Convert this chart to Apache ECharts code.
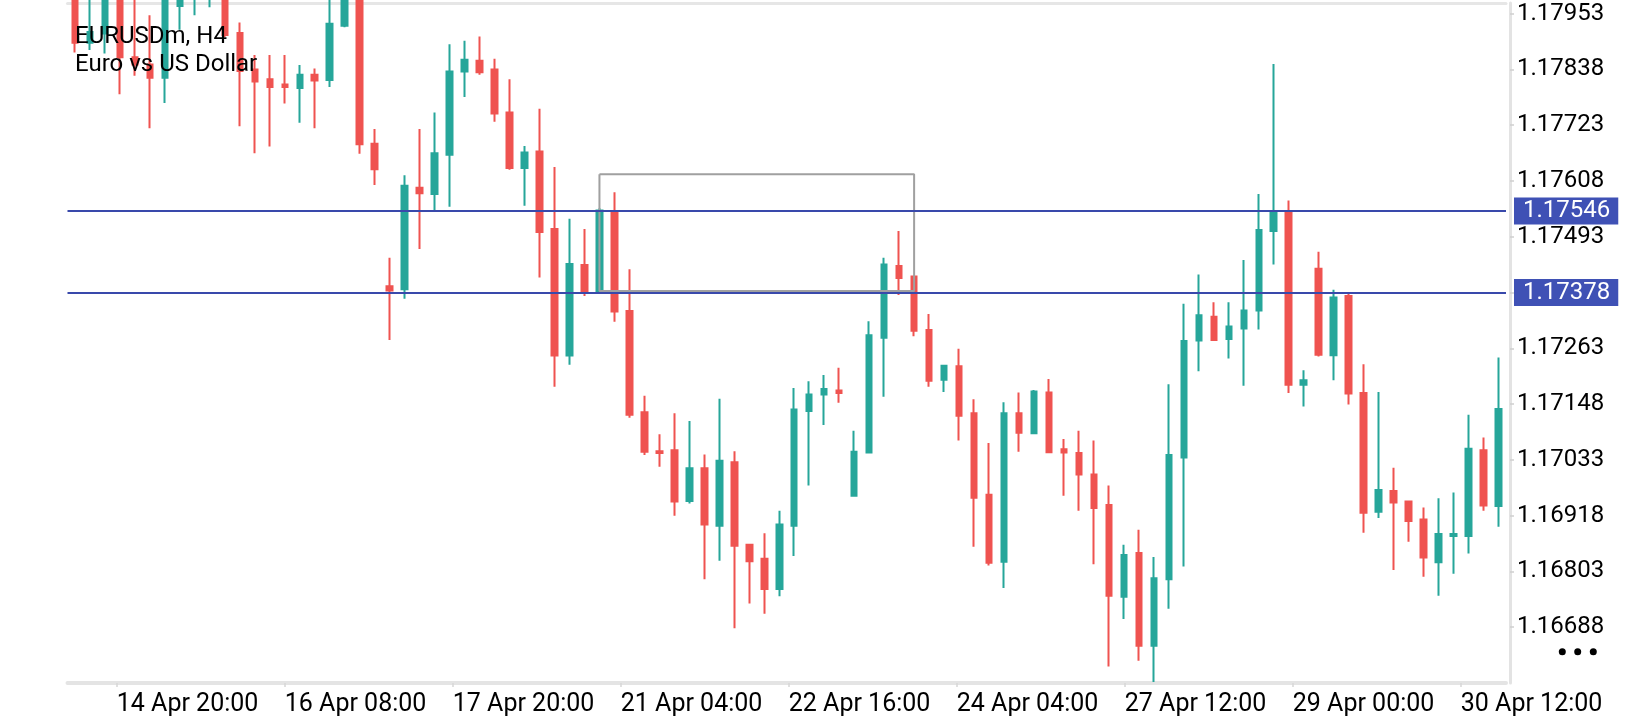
<!DOCTYPE html>
<html>
<head>
<meta charset="utf-8">
<script src="https://cdn.jsdelivr.net/npm/echarts/dist/echarts.min.js"></script>
<style>
html,body{margin:0;padding:0;background:#fff;}
#chart{width:1640px;height:720px;}
</style>
</head>
<body>
<div id="chart"></div>
<script>
// H4 candles, EURUSDm
const open = [
 1.17990,1.17893,1.17912,1.17990,1.17863,1.17848,1.17821,1.17969,1.17985,1.18010,
 1.18030,1.17913,1.17838,1.17818,1.17807,1.17800,1.17827,1.17816,1.17928,1.17985,
 1.17685,1.17391,1.17385,1.17594,1.17581,1.17662,1.17834,1.17856,1.17838,1.17749,
 1.17635,1.17669,1.17509,1.17248,1.17435,1.17380,1.17545,1.17340,1.17131,1.17051,
 1.17053,1.16948,1.17016,1.16897,1.17028,1.16858,1.16829,1.16767,1.16897,1.17134,
 1.17168,1.17176,1.16959,1.17048,1.17285,1.17433,1.17411,1.17301,1.17198,1.17226,
 1.17129,1.16961,1.16823,1.17129,1.17088,1.17172,1.17055,1.17047,1.17003,1.16940,
 1.16751,1.16841,1.16650,1.16787,1.17038,1.17279,1.17328,1.17282,1.17304,1.17341,
 1.17505,1.17545,1.17188,1.17427,1.17249,1.17371,1.17171,1.16926,1.16969,1.16947,
 1.16910,1.16822,1.16876,1.16876,1.17053,1.16938
];
const close = [
 1.17893,1.17915,1.17990,1.17863,1.17848,1.17821,1.17985,1.17985,1.18010,1.18030,
 1.17909,1.17835,1.17813,1.17802,1.17802,1.17827,1.17815,1.17932,1.17990,1.17684,
 1.17632,1.17382,1.17598,1.17583,1.17665,1.17834,1.17858,1.17832,1.17747,1.17635,
 1.17667,1.17503,1.17248,1.17437,1.17378,1.17547,1.17339,1.17126,1.17050,1.17047,
 1.16947,1.17016,1.16900,1.17031,1.16856,1.16824,1.16767,1.16900,1.17137,1.17168,
 1.17179,1.17171,1.17050,1.17290,1.17436,1.17408,1.17299,1.17196,1.17227,1.17124,
 1.16955,1.16821,1.17129,1.17089,1.17174,1.17049,1.17048,1.17003,1.16934,1.16753,
 1.16837,1.16650,1.16789,1.17043,1.17278,1.17331,1.17280,1.17308,1.17341,1.17507,
 1.17545,1.17188,1.17197,1.17250,1.17368,1.17170,1.16924,1.16971,1.16945,1.16907,
 1.16832,1.16880,1.16880,1.17056,1.16939,1.17138
];
const low = [
 1.17873,1.17878,1.17871,1.17787,1.17825,1.17717,1.17769,1.17920,1.17950,1.17966,
 1.17905,1.17721,1.17665,1.17679,1.17768,1.17728,1.17717,1.17802,1.17925,1.17664,
 1.17600,1.17280,1.17365,1.17468,1.17548,1.17555,1.17781,1.17827,1.17730,1.17631,
 1.17557,1.17409,1.17184,1.17229,1.17371,1.17379,1.17318,1.17120,1.17043,1.17019,
 1.16918,1.16943,1.16787,1.16825,1.16686,1.16737,1.16716,1.16752,1.16835,1.16980,
 1.17105,1.17151,1.16957,1.17048,1.17163,1.17373,1.17288,1.17184,1.17173,1.17073,
 1.16854,1.16815,1.16769,1.17050,1.17088,1.17047,1.16959,1.16928,1.16818,1.16607,
 1.16705,1.16619,1.16575,1.16726,1.16813,1.17216,1.17279,1.17242,1.17186,1.17302,
 1.17436,1.17171,1.17143,1.17246,1.17197,1.17147,1.16883,1.16913,1.16806,1.16864,
 1.16792,1.16753,1.16798,1.16840,1.16928,1.16895
];
const high = [
 1.18000,1.17995,1.18000,1.18005,1.17985,1.17950,1.17995,1.17995,1.18020,1.18040,
 1.18040,1.17935,1.17868,1.17868,1.17868,1.17847,1.17840,1.17985,1.18000,1.17995,
 1.17715,1.17450,1.17620,1.17715,1.17749,1.17890,1.17897,1.17906,1.17860,1.17818,
 1.17680,1.17757,1.17637,1.17530,1.17509,1.17552,1.17585,1.17426,1.17165,1.17086,
 1.17129,1.17113,1.17044,1.17159,1.17051,1.16859,1.16882,1.16928,1.17181,1.17195,
 1.17208,1.17223,1.17093,1.17319,1.17450,1.17505,1.17413,1.17334,1.17228,1.17262,
 1.17158,1.17068,1.17152,1.17172,1.17177,1.17200,1.17076,1.17093,1.17073,1.16980,
 1.16858,1.16889,1.16833,1.17189,1.17355,1.17415,1.17358,1.17358,1.17445,1.17581,
 1.17849,1.17568,1.17218,1.17462,1.17384,1.17377,1.17230,1.17173,1.17017,1.16947,
 1.16935,1.16954,1.16966,1.17126,1.17079,1.17244
];
const candleIds = open.map((_, i) => String(i));
const timeLabels = ['14 Apr 20:00','16 Apr 08:00','17 Apr 20:00','21 Apr 04:00','22 Apr 16:00',
                    '24 Apr 04:00','27 Apr 12:00','29 Apr 00:00','30 Apr 12:00'];
const levels = [1.17546, 1.17378];
const zoneFrom = 35, zoneTo = 56, zoneTop = 1.17622, zoneBottom = 1.17381;
const priceMin = 1.16573, priceMax = 1.17975, priceStep = 0.00115;

const candles = open.map((o, i) => [o, close[i], low[i], high[i]]);
const zonePath = [[zoneFrom, zoneTop], [zoneTo, zoneTop], [zoneTo, zoneBottom], [zoneFrom, zoneBottom], [zoneFrom, zoneTop]];

const FONT = 'Roboto';
const chart = echarts.init(document.getElementById('chart'));
chart.setOption({
  animation: false,
  backgroundColor: '#ffffff',
  title: {
    text: 'EURUSDm, H4\nEuro vs US Dollar',
    left: 75, top: 23, padding: 0,
    textStyle: { fontFamily: FONT, fontSize: 24, fontWeight: 'normal', color: '#000', lineHeight: 28 }
  },
  grid: [
    { left: 67.5, width: 1438.5, top: 3, bottom: 37 },
    { left: 116.8, width: 1344, top: 3, bottom: 37 }
  ],
  xAxis: [
    { type: 'category', gridIndex: 0, data: candleIds, position: 'bottom', boundaryGap: true,
      axisLine: { show: true, lineStyle: { color: '#e4e4e4', width: 4 } },
      axisTick: { show: false }, axisLabel: { show: false }, splitLine: { show: false } },
    { type: 'category', gridIndex: 0, data: candleIds, position: 'top', boundaryGap: true,
      axisLine: { show: true, lineStyle: { color: '#e6e6e6', width: 3 } },
      axisTick: { show: false }, axisLabel: { show: false }, splitLine: { show: false } },
    { type: 'value', gridIndex: 1, min: 0, max: timeLabels.length - 1, interval: 1, position: 'bottom',
      axisLine: { show: false },
      axisTick: { show: true, length: 4, lineStyle: { color: '#d6d6d6', width: 1.5 } },
      axisLabel: { show: true, align: 'left', margin: 9, fontFamily: FONT, fontSize: 25, color: '#000',
                   formatter: v => timeLabels[Math.round(v)] || '' },
      splitLine: { show: false } }
  ],
  yAxis: [
    { type: 'value', gridIndex: 0, position: 'right', offset: 4,
      min: priceMin, max: priceMax, interval: priceStep, scale: true,
      axisLine: { show: true, lineStyle: { color: '#e3e3e3', width: 3 } },
      axisTick: { show: true, length: 4, lineStyle: { color: '#d0d0d0', width: 1.5 } },
      axisLabel: { show: true, showMinLabel: false, showMaxLabel: false, margin: 7,
                   fontFamily: FONT, fontSize: 24, color: '#000',
                   formatter: v => v.toFixed(5) },
      splitLine: { show: false } },
    { type: 'value', gridIndex: 1, min: 0, max: 1, show: false }
  ],
  series: [
    {
      type: 'candlestick', xAxisIndex: 0, yAxisIndex: 0,
      data: candles, barWidth: 6, clip: true,
      itemStyle: { color: '#26a69a', color0: '#ef5350', borderColor: '#26a69a', borderColor0: '#ef5350', borderWidth: 2 },
      z: 2
    },
    {
      type: 'line', xAxisIndex: 0, yAxisIndex: 0, data: zonePath,
      symbol: 'none', silent: true, z: 3,
      lineStyle: { color: '#a0a0a0', width: 2 },
      markLine: {
        silent: true, symbol: 'none', animation: false, precision: 5,
        lineStyle: { color: '#3949ab', width: 2, type: 'solid' },
        label: { show: true, position: 'end', distance: 8, formatter: p => Number(p.value).toFixed(5),
                 color: '#fff', backgroundColor: '#3f51b5', fontFamily: FONT, fontSize: 24,
                 padding: [1, 8, 1, 9], lineHeight: 25 },
        data: levels.map(v => ({ yAxis: v }))
      }
    }
  ],
  graphic: [
    { type: 'circle', shape: { cx: 1562.3, cy: 651.7, r: 3.5 }, style: { fill: '#000' } },
    { type: 'circle', shape: { cx: 1577.7, cy: 651.7, r: 3.5 }, style: { fill: '#000' } },
    { type: 'circle', shape: { cx: 1593.3, cy: 651.7, r: 3.5 }, style: { fill: '#000' } }
  ]
});
</script>
</body>
</html>
